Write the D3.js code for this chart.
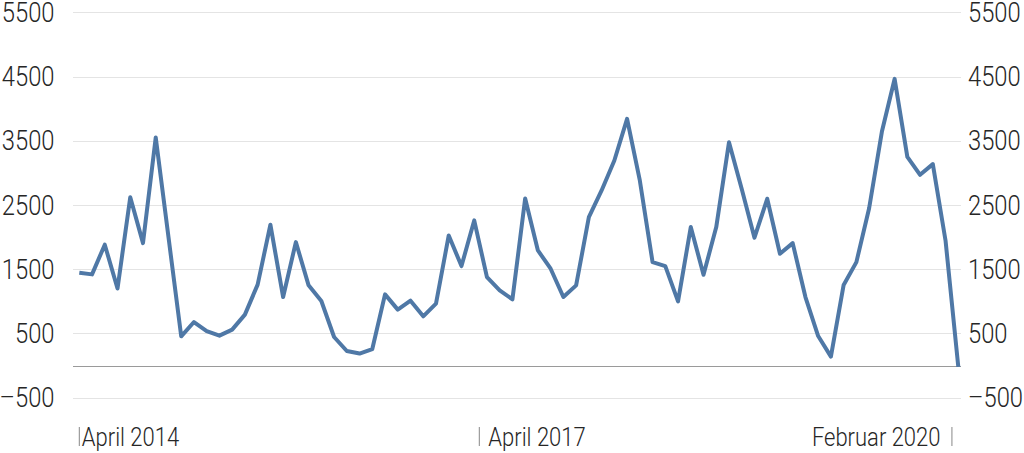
<!DOCTYPE html>
<html>
<head>
<meta charset="utf-8">
<script src="https://cdn.jsdelivr.net/npm/d3@7"></script>
<style>
  html, body { margin: 0; padding: 0; background: #fff; }
  svg { display: block; }
  text { font-family: Roboto, "Noto Sans", sans-serif; font-weight: 300; fill: #262626; }
</style>
</head>
<body>
<svg id="chart" width="1024" height="453"></svg>
<script>
// ---- data ----
const values = [
  1446, 1420, 1882, 1200, 2620, 1907, 3550, 2000, 456, 678,
  538, 466, 560, 793, 1260, 2193, 1067, 1922, 1249, 1005,
  445, 227, 187, 258, 1109, 871, 1011, 767, 964, 2026,
  1549, 2260, 1378, 1171, 1031, 2600, 1793, 1508, 1067, 1249,
  2311, 2726, 3193, 3841, 2882, 1611, 1549, 1000, 2156, 1415,
  2156, 3477, 2750, 1991, 2597, 1742, 1907, 1067, 460, 140,
  1255, 1611, 2450, 3639, 4463, 3250, 2970, 3136, 1944, -20
];
const categories = values.map((_, i) => i);
const yTicks = [-500, 500, 1500, 2500, 3500, 4500, 5500];
const xTickLabels = ["April 2014", "April 2017", "Februar 2020"];
const xTickAt = [0, 31.4, 68.5];

// ---- layout ----
const svg = d3.select("#chart");
const x = d3.scaleLinear().domain([0, categories.length - 1]).range([79.3, 958.3]);
const y = d3.scaleLinear().domain([-500, 5500]).range([397.7, 12.3]);
const gridX1 = 73, gridX2 = 961;
const sx = 0.88;

// gridlines
svg.append("g").selectAll("line").data(yTicks).join("line")
  .attr("x1", gridX1).attr("x2", gridX2)
  .attr("y1", d => Math.round(y(d)) + 0.5).attr("y2", d => Math.round(y(d)) + 0.5)
  .attr("stroke", "#e4e4e4").attr("stroke-width", 1);

// zero line
svg.append("line")
  .attr("x1", gridX1).attr("x2", gridX2)
  .attr("y1", Math.round(y(0)) + 0.5).attr("y2", Math.round(y(0)) + 0.5)
  .attr("stroke", "#9a9a9a").attr("stroke-width", 1.2);

const fmt = d => (d < 0 ? "\u2013" + Math.abs(d) : String(d));

// left axis labels
svg.append("g").selectAll("text").data(yTicks).join("text")
  .attr("transform", d => `translate(54.5,${y(d)}) scale(${sx},1)`)
  .attr("dy", "0.36em")
  .attr("text-anchor", "end")
  .attr("font-size", 27)
  .text(fmt);

// right axis labels
svg.append("g").selectAll("text").data(yTicks).join("text")
  .attr("transform", d => `translate(968,${y(d)}) scale(${sx},1)`)
  .attr("dy", "0.36em")
  .attr("text-anchor", "start")
  .attr("font-size", 27)
  .text(fmt);

// x tick marks and labels
const xt = svg.append("g");
xTickAt.forEach((v, i) => {
  const px = x(v);
  xt.append("line")
    .attr("x1", px).attr("x2", px)
    .attr("y1", 427).attr("y2", 446)
    .attr("stroke", "#888").attr("stroke-width", 1);
  const last = i === xTickAt.length - 1;
  const gap = i === 0 ? 2.5 : (last ? 11.5 : 9);
  xt.append("text")
    .attr("transform", `translate(${last ? px - gap : px + gap},446) scale(${sx},1)`)
    .attr("text-anchor", last ? "end" : "start")
    .attr("font-size", 25)
    .text(xTickLabels[i]);
});

// line
const line = d3.line()
  .x((d, i) => x(categories[i]))
  .y(d => y(d));

svg.append("path")
  .datum(values)
  .attr("d", line)
  .attr("fill", "none")
  .attr("stroke", "#4f78a6")
  .attr("stroke-width", 4)
  .attr("stroke-linejoin", "round")
  .attr("stroke-linecap", "butt");
</script>
</body>
</html>
